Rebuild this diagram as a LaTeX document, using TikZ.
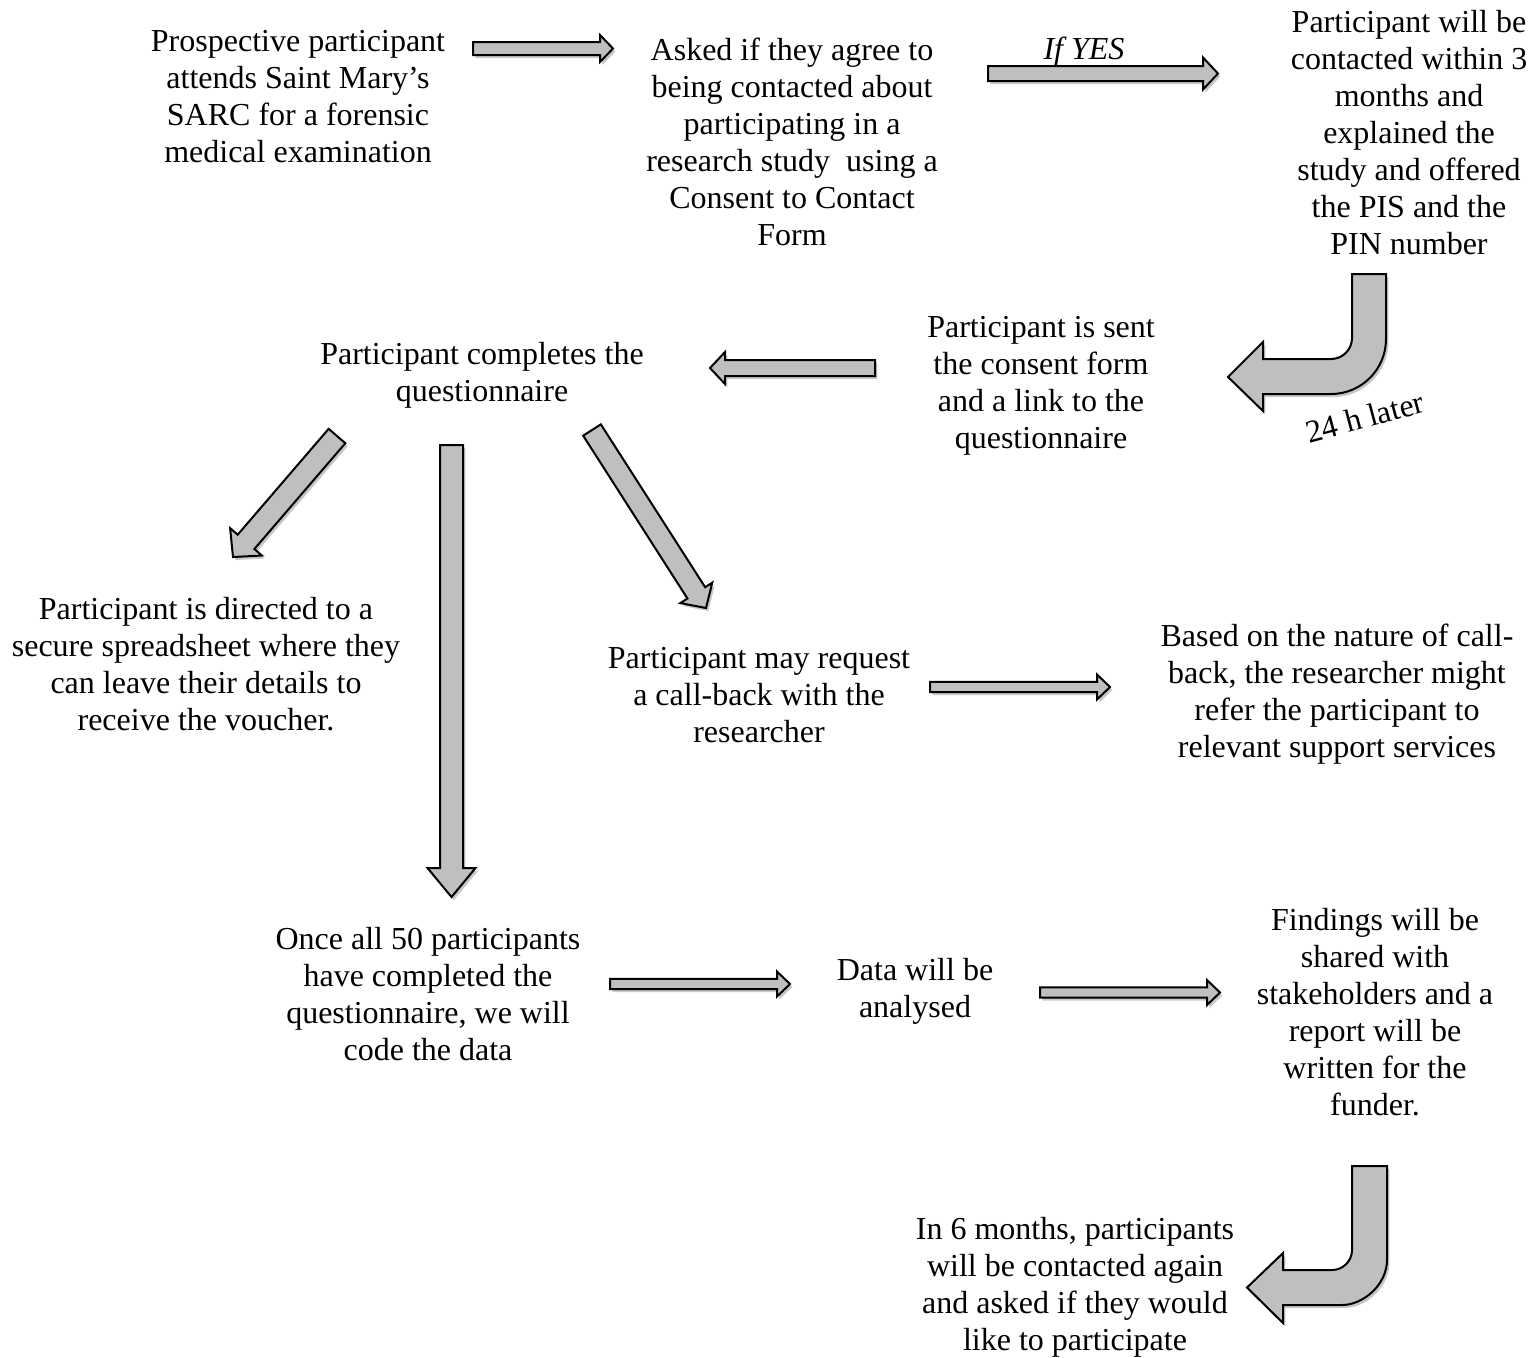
\documentclass[tikz,border=0pt]{standalone}
\usepackage{fontspec}
\setmainfont{Liberation Serif}
\usetikzlibrary{calc,shadows}
\definecolor{arrowgray}{RGB}{191,191,191}
\tikzset{
  txt/.style={align=center, font=\fontsize{16}{18.5}\selectfont, inner sep=0pt},
  blockarrow/.style={draw=black, line width=1pt, fill=arrowgray, line join=miter,
    drop shadow={shadow xshift=1.2pt, shadow yshift=-1.5pt, opacity=0.22, fill=black}},
}
% from, to, half shaft width, half head width, head length
\newcommand\barrow[5]{%
  \coordinate (bh) at ($(#2)!#5!(#1)$);
  \draw[blockarrow] ($(#1)!#3!90:(#2)$) -- ($(bh)!#3!90:(#2)$) -- ($(bh)!#4!90:(#2)$) -- (#2)
    -- ($(bh)!#4!-90:(#2)$) -- ($(bh)!#3!-90:(#2)$) -- ($(#1)!#3!-90:(#2)$) -- cycle;
}
\begin{document}
\begin{tikzpicture}[x=0.5pt,y=-0.5pt]
\useasboundingbox (0,0) rectangle (1540,1357);

% text nodes
\node[txt] (n1) at (298,97) {Prospective participant\\attends Saint Mary’s\\SARC for a forensic\\medical examination};
\node[txt] (n2) at (792,142) {Asked if they agree to\\being contacted about\\participating in a\\research study~ using a\\Consent to Contact\\Form};
\node[txt] (n3) at (1409,133) {Participant will be\\contacted within 3\\months and\\explained the\\study and offered\\the PIS and the\\PIN number};
\node[txt] (n4) at (1041,386) {Participant is sent\\the consent form\\and a link to the\\questionnaire};
\node[txt] (n5) at (482,375) {Participant completes the\\questionnaire};
\node[txt] (n6) at (206,664) {Participant is directed to a\\secure spreadsheet where they\\can leave their details to\\receive the voucher.};
\node[txt] (n7) at (759,695) {Participant may request\\a call-back with the\\researcher};
\node[txt] (n8) at (1337,694) {Based on the nature of call-\\back, the researcher might\\refer the participant to\\relevant support services};
\node[txt] (n9) at (428,994) {Once all 50 participants\\have completed the\\questionnaire, we will\\code the data};
\node[txt] (n10) at (915,991) {Data will be\\analysed};
\node[txt] (n11) at (1375,1012) {Findings will be\\shared with\\stakeholders and a\\report will be\\written for the\\funder.};
\node[txt] (n12) at (1075,1287) {In 6 months, participants\\will be contacted again\\and asked if they would\\like to participate};
\node[txt, font=\fontsize{16}{18.5}\selectfont\itshape] (lyes) at (1084,52) {If YES};
\node[txt, rotate=15] (l24) at (1365,417) {24 h later};

% arrow end points
\coordinate (a1s) at (473,48.5);   \coordinate (a1e) at (613,48.5);
\coordinate (a2s) at (988,73.5);   \coordinate (a2e) at (1218,73.5);
\coordinate (a3s) at (875,368);    \coordinate (a3e) at (710,368);
\coordinate (a4s) at (337,436);    \coordinate (a4e) at (233,557);
\coordinate (a5s) at (592,430);    \coordinate (a5e) at (706,608);
\coordinate (a6s) at (451.5,445);  \coordinate (a6e) at (451.5,897);
\coordinate (a7s) at (930,687);    \coordinate (a7e) at (1110,687);
\coordinate (a8s) at (610,984);    \coordinate (a8e) at (790,984);
\coordinate (a9s) at (1040,992.5); \coordinate (a9e) at (1220,992.5);

\barrow{a1s}{a1e}{3.25pt}{6.75pt}{6.5pt}
\barrow{a2s}{a2e}{3.75pt}{8pt}{7.5pt}
\barrow{a3s}{a3e}{4pt}{8pt}{7.5pt}
\barrow{a4s}{a4e}{5.5pt}{10.5pt}{10pt}
\barrow{a5s}{a5e}{5.25pt}{9.5pt}{9pt}
\barrow{a6s}{a6e}{5.75pt}{12pt}{14.5pt}
\barrow{a7s}{a7e}{2.6pt}{6.25pt}{6.5pt}
\barrow{a8s}{a8e}{2.6pt}{6.25pt}{6.5pt}
\barrow{a9s}{a9e}{2.6pt}{6.25pt}{6.5pt}

% curved arrows
\draw[blockarrow] (1352,274) -- (1386,274) -- (1386,339)
  .. controls (1386,369.4) and (1361.4,394) .. (1331,394) -- (1263,394) -- (1263,411)
  -- (1228,377) -- (1263,342) -- (1263,359) -- (1331,359)
  .. controls (1342.6,359) and (1352,349.6) .. (1352,338) -- cycle;
\draw[blockarrow] (1352,1166) -- (1387,1166) -- (1387,1260)
  .. controls (1387,1284.9) and (1362.9,1305) .. (1342,1305) -- (1283,1305) -- (1283,1323)
  -- (1247,1287.5) -- (1283,1253) -- (1283,1270) -- (1332,1270)
  .. controls (1343,1270) and (1352,1261) .. (1352,1250) -- cycle;
\end{tikzpicture}
\end{document}
